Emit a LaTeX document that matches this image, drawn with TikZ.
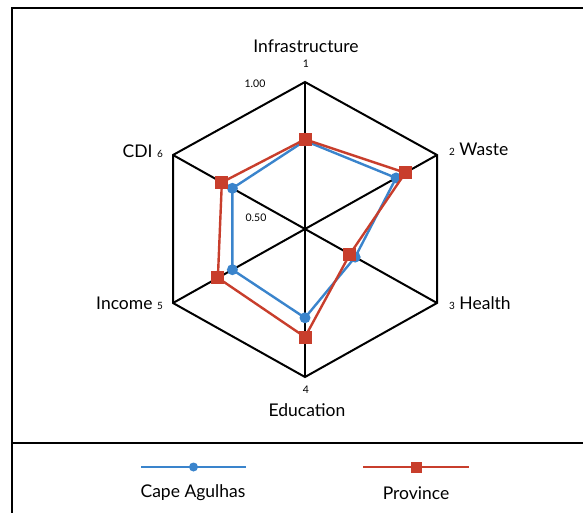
\documentclass[tikz,border=0pt]{standalone}
\usepackage{fontspec}
\setmainfont{Lato}
\usetikzlibrary{calc}
\definecolor{capeblue}{RGB}{58,132,204}
\definecolor{provred}{RGB}{200,62,44}
\newcommand{\axnum}[1]{{\fontsize{10}{11}\selectfont #1}}
\begin{document}
\begin{tikzpicture}[x=1pt,y=-1pt,
  spoke/.style={line width=2pt,black,line join=miter},
  cape/.style={line width=2.4pt,capeblue,line join=round},
  prov/.style={line width=2.4pt,provred,line join=round},
  capedot/.style={circle,fill=capeblue,inner sep=0pt,minimum size=11pt},
  provsq/.style={rectangle,fill=provred,inner sep=0pt,minimum size=13pt},
  lbl/.style={font=\fontsize{17.5}{20}\selectfont,inner sep=1pt},
  num/.style={font=\fontsize{10.5}{12}\selectfont,inner sep=1pt}]
\useasboundingbox (0,0) rectangle (583,513);
% frame and legend box
\coordinate (tl) at (12,8);
\coordinate (tr) at (583,8);
\coordinate (bl) at (12,513);
\coordinate (ml) at (12,443);
\coordinate (mr) at (583,443);
\draw[line width=2.6pt] (tr) -- (tl) -- (bl);
\draw[line width=2.6pt] (ml) -- (mr);
% axes of the web
\coordinate (c) at (305,229);
\coordinate (a1) at (305,82);
\coordinate (a2) at (437,155);
\coordinate (a3) at (437,303);
\coordinate (a4) at (305,377);
\coordinate (a5) at (173,303);
\coordinate (a6) at (173,155);
\draw[spoke] (a1) -- (a2) -- (a3) -- (a4) -- (a5) -- (a6) -- cycle;
\foreach \i in {1,...,6}
  \draw[spoke] (c) -- (a\i);
% values
\def\capevals{0.60,0.69,0.38,0.60,0.55,0.55}
\def\provvals{0.61,0.76,0.34,0.73,0.66,0.63}
\foreach \v [count=\i] in \capevals
  \coordinate (b\i) at ($(c)!\v!(a\i)$);
\foreach \v [count=\i] in \provvals
  \coordinate (r\i) at ($(c)!\v!(a\i)$);
\draw[cape] (b1) -- (b2) -- (b3) -- (b4) -- (b5) -- (b6) -- cycle;
\foreach \i in {1,...,6}
  \node[capedot] at (b\i) {};
\draw[prov] (r1) -- (r2) -- (r3) -- (r4) -- (r5) -- (r6) -- cycle;
\foreach \i in {1,...,6}
  \node[provsq] at (r\i) {};
% labels
\node[lbl] (infra) at (306,46) {Infrastructure};
\node[num] (n1) at (306,64) {1};
\node[num] (top) at (255,84) {1.00};
\node[num] (mid) at (256,218) {0.50};
\node[lbl,anchor=west] (waste) at (448,149) {\axnum{2} Waste};
\node[lbl,anchor=west] (health) at (448,303) {\axnum{3} Health};
\node[num] (n4) at (306,390) {4};
\node[lbl] (edu) at (307,410) {Education};
\node[lbl,anchor=east] (income) at (164,303) {Income \axnum{5}};
\node[lbl,anchor=east] (cdi) at (164,151) {CDI \axnum{6}};
% legend
\coordinate (cl) at (141,467);
\coordinate (cr) at (246,467);
\coordinate (pl) at (363,467);
\coordinate (pr) at (469,467);
\draw[cape] (cl) -- (cr);
\node[capedot,minimum size=9pt] (cm) at ($(cl)!0.5!(cr)$) {};
\draw[prov] (pl) -- (pr);
\node[provsq,minimum size=11pt] (pm) at ($(pl)!0.5!(pr)$) {};
\node[lbl] (capename) at (193,493) {Cape Agulhas};
\node[lbl] (provname) at (416,493) {Province};
\end{tikzpicture}
\end{document}
